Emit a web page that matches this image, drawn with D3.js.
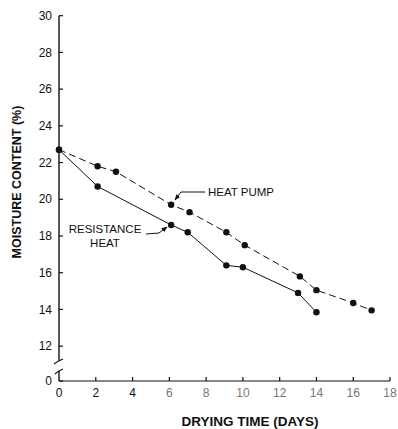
<!DOCTYPE html>
<html>
<head>
<meta charset="utf-8">
<script src="https://d3js.org/d3.v7.min.js"></script>
<style>
  body { margin: 0; background: #fff; }
  text { font-family: "Liberation Sans", Arial, sans-serif; fill: #111; }
</style>
</head>
<body>
<div id="chart"></div>
<script>
// data
var pumpDays = [0, 2.1, 3.1, 6.1, 7.1, 9.1, 10.1, 13.1, 14.0, 16.0, 17.0];
var pumpMoisture = [22.7, 21.8, 21.5, 19.7, 19.3, 18.2, 17.5, 15.8, 15.05, 14.35, 13.95];
var resDays = [0, 2.1, 6.1, 7.0, 9.1, 10.0, 13.0, 14.0];
var resMoisture = [22.7, 20.7, 18.6, 18.2, 16.4, 16.3, 14.9, 13.85];
var xTicks = [0, 2, 4, 6, 8, 10, 12, 14, 16, 18];
var yTicks = [0, 12, 14, 16, 18, 20, 22, 24, 26, 28, 30];

var width = 398, height = 429;

var svg = d3.select("#chart").append("svg")
  .attr("width", width)
  .attr("height", height);

var x = d3.scaleLinear().domain([0, 18]).range([59, 390]);
// broken axis: 0 sits just below the break
var y = d3.scaleLinear().domain([0, 11, 30]).range([381, 364.5, 15.7]);

// y axis line with break
svg.append("line").attr("x1", 59).attr("x2", 59)
  .attr("y1", y(30)).attr("y2", 361).attr("stroke", "#111").attr("stroke-width", 1.4);
svg.append("line").attr("x1", 59).attr("x2", 59)
  .attr("y1", 371).attr("y2", y(0)).attr("stroke", "#111").attr("stroke-width", 1.4);
svg.append("path").attr("d", "M54,364 Q58,361 63,359").attr("fill", "none").attr("stroke", "#111").attr("stroke-width", 1.2);
svg.append("path").attr("d", "M55,374 Q58,371 63,369").attr("fill", "none").attr("stroke", "#111").attr("stroke-width", 1.2);

// y ticks + labels
svg.selectAll(".ytick").data(yTicks).enter().append("line")
  .attr("x1", 59).attr("x2", 63)
  .attr("y1", function(d) { return y(d); }).attr("y2", function(d) { return y(d); })
  .attr("stroke", "#111").attr("stroke-width", 1.2);
svg.selectAll(".ylab").data(yTicks).enter().append("text")
  .attr("x", 52).attr("y", function(d) { return y(d); })
  .attr("dy", "0.35em")
  .attr("text-anchor", "end")
  .style("font-size", "12px")
  .text(function(d) { return d; });

// x axis
svg.append("line").attr("x1", 59).attr("x2", x(18))
  .attr("y1", y(0)).attr("y2", y(0)).attr("stroke", "#111").attr("stroke-width", 1.2);
svg.selectAll(".xtick").data(xTicks.slice(1)).enter().append("line")
  .attr("x1", function(d) { return x(d); }).attr("x2", function(d) { return x(d); })
  .attr("y1", y(0)).attr("y2", y(0) - 4)
  .attr("stroke", "#111").attr("stroke-width", 1.2);
svg.selectAll(".xlab").data(xTicks).enter().append("text")
  .attr("x", function(d) { return x(d); }).attr("y", 397)
  .attr("text-anchor", "middle")
  .style("font-size", "12px")
  .style("fill", function(d) { return d > 4 ? "#777" : "#111"; })
  .text(function(d) { return d; });

// axis titles
svg.append("text")
  .attr("transform", "translate(21,182) rotate(-90)")
  .attr("text-anchor", "middle")
  .style("font-size", "12.5px").style("font-weight", "bold")
  .text("MOISTURE CONTENT (%)");
svg.append("text")
  .attr("x", 250).attr("y", 426)
  .attr("text-anchor", "middle")
  .style("font-size", "13.5px").style("font-weight", "bold")
  .text("DRYING TIME (DAYS)");

// series
var line = d3.line()
  .x(function(d) { return x(d[0]); })
  .y(function(d) { return y(d[1]); });

var pump = d3.zip(pumpDays, pumpMoisture);
var res = d3.zip(resDays, resMoisture);

svg.append("path").datum(pump).attr("d", line)
  .attr("fill", "none").attr("stroke", "#111").attr("stroke-width", 1)
  .attr("stroke-dasharray", "7,4");
svg.append("path").datum(res).attr("d", line)
  .attr("fill", "none").attr("stroke", "#111").attr("stroke-width", 1);

svg.selectAll(".pdot").data(pump).enter().append("circle")
  .attr("cx", function(d) { return x(d[0]); }).attr("cy", function(d) { return y(d[1]); })
  .attr("r", 3.2).attr("fill", "#111");
svg.selectAll(".rdot").data(res).enter().append("circle")
  .attr("cx", function(d) { return x(d[0]); }).attr("cy", function(d) { return y(d[1]); })
  .attr("r", 3.2).attr("fill", "#111");

// annotations
svg.append("defs").append("marker")
  .attr("id", "arrow").attr("viewBox", "0 0 10 10")
  .attr("refX", 9).attr("refY", 5)
  .attr("markerWidth", 6).attr("markerHeight", 6)
  .attr("orient", "auto")
  .append("path").attr("d", "M0,1 L10,5 L0,9 Z").attr("fill", "#111");

svg.append("polyline")
  .attr("points", "205,192 181,192 175,200")
  .attr("fill", "none").attr("stroke", "#111").attr("stroke-width", 1)
  .attr("marker-end", "url(#arrow)");
svg.append("text").attr("x", 208).attr("y", 196)
  .style("font-size", "11.5px").text("HEAT PUMP");

svg.append("polyline")
  .attr("points", "146,234 159,233 167,227")
  .attr("fill", "none").attr("stroke", "#111").attr("stroke-width", 1)
  .attr("marker-end", "url(#arrow)");
svg.append("text").attr("x", 105).attr("y", 233)
  .attr("text-anchor", "middle")
  .style("font-size", "11.5px").text("RESISTANCE");
svg.append("text").attr("x", 105).attr("y", 247)
  .attr("text-anchor", "middle")
  .style("font-size", "11.5px").text("HEAT");
</script>
</body>
</html>
